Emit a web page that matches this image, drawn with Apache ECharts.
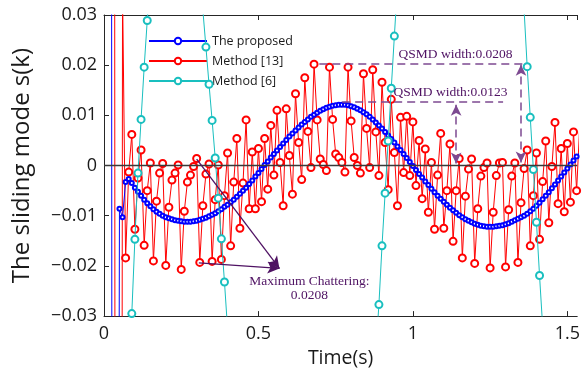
<!DOCTYPE html>
<html><head><meta charset="utf-8">
<script src="https://cdn.jsdelivr.net/npm/echarts@6/dist/echarts.min.js"></script>
<style>html,body{margin:0;padding:0;background:#fff}#c{width:583px;height:373px}</style>
</head><body><div id="c"></div>
<script>
// sampling step (s)
const dt = 0.01;
// The proposed (blue), samples from t = 0.02 s
const blueStart = 0.02;
const blueVals = [
 0.5, -0.5, -0.3, -0.0086, -0.0103, -0.0033, -0.0027, -0.0035, -0.0044, -0.0052,
 -0.0060, -0.0068, -0.0075, -0.0081, -0.0087, -0.0092, -0.0096, -0.0100, -0.0103, -0.0105,
 -0.0107, -0.0109, -0.0110, -0.0111, -0.0112, -0.0112, -0.0112, -0.0111, -0.0110, -0.0108,
 -0.0106, -0.0104, -0.0101, -0.0098, -0.0095, -0.0091, -0.0087, -0.0082, -0.0078, -0.0073,
 -0.0068, -0.0062, -0.0056, -0.0050, -0.0044, -0.0037, -0.0030, -0.0022, -0.0015, -0.0007,
 0.0001, 0.0008, 0.0016, 0.0023, 0.0030, 0.0037, 0.0044, 0.0051, 0.0058, 0.0064,
 0.0070, 0.0076, 0.0082, 0.0087, 0.0092, 0.0097, 0.0101, 0.0105, 0.0109, 0.0112,
 0.0115, 0.0117, 0.0119, 0.0120, 0.0121, 0.0121, 0.0121, 0.0120, 0.0118, 0.0116,
 0.0113, 0.0110, 0.0106, 0.0102, 0.0097, 0.0092, 0.0086, 0.0080, 0.0074, 0.0067,
 0.0060, 0.0053, 0.0046, 0.0038, 0.0031, 0.0023, 0.0015, 0.0007, -0.0001, -0.0009,
 -0.0017, -0.0024, -0.0032, -0.0039, -0.0046, -0.0053, -0.0060, -0.0066, -0.0072, -0.0078,
 -0.0084, -0.0089, -0.0094, -0.0099, -0.0103, -0.0107, -0.0110, -0.0113, -0.0116, -0.0118,
 -0.0120, -0.0121, -0.0122, -0.0122, -0.0122, -0.0121, -0.0120, -0.0119, -0.0117, -0.0115,
 -0.0112, -0.0109, -0.0106, -0.0103, -0.0100, -0.0096, -0.0091, -0.0086, -0.0080, -0.0074,
 -0.0067, -0.0060, -0.0053, -0.0045, -0.0038, -0.0030, -0.0022, -0.0014, -0.0006, 0.0002,
 0.0010, 0.0018, 0.0026
];
// Method [13] (red), samples from t = 0.03 s
const redStart = 0.03;
const redVals = [
 0.5, -0.5, -0.5, 0.035, -0.0184, -0.0013, 0.0062, -0.0127, -0.0025, 0.0031,
 -0.0159, -0.0050, 0.0005, -0.0190, -0.0071, -0.0015, 0.0004, -0.0199, -0.0083, -0.0029,
 -0.0015, 0.0001, -0.0207, -0.0091, -0.0033, -0.0019, -0.0002, 0.0014, -0.0193, -0.0080,
 -0.0017, 0.0003, -0.0191, -0.0068, 0.0001, -0.0187, -0.0060, 0.0025, -0.0160, -0.0033,
 0.0054, -0.0125, -0.0035, 0.0091, -0.0086, 0.0027, -0.0086, 0.0034, -0.0072, 0.0054,
 -0.0047, 0.0080, -0.0019, 0.0110, 0.0006, -0.0080, 0.0113, 0.0020, -0.0057, 0.0143,
 0.0046, -0.0028, 0.0175, 0.0068, -0.0004, 0.0202, 0.0091, 0.0013, 0.0002, -0.0010,
 0.0196, 0.0092, 0.0023, 0.0016, 0.0006, -0.0013, 0.0196, 0.0089, 0.0016, 0.0000,
 -0.0015, 0.0183, 0.0074, -0.0004, 0.0191, 0.0067, -0.0020, 0.0166, 0.0046, -0.0048,
 0.0132, 0.0026, -0.0080, 0.0096, -0.0014, 0.0098, -0.0020, 0.0087, -0.0040, 0.0050,
 -0.0066, 0.0033, -0.0093, 0.0006, -0.0127, -0.0019, 0.0064, -0.0125, -0.0050, 0.0043,
 -0.0151, -0.0050, 0.0014, -0.0184, -0.0061, -0.0007, 0.0013, -0.0195, -0.0086, -0.0021,
 -0.0004, 0.0005, -0.0204, -0.0093, -0.0020, 0.0005, 0.0006, -0.0202, -0.0088, -0.0021,
 0.0005, -0.0193, -0.0074, -0.0006, 0.0031, -0.0160, -0.0060, 0.0025, -0.0147, -0.0032,
 0.0049, -0.0114, -0.0002, 0.0086, -0.0076, 0.0034, -0.0092, 0.0044, -0.0073, 0.0067,
 -0.0050, 0.0078
];
// Method [6] (cyan): times and values (values outside the axis range are estimates)
const cyanT = [0.06,0.07,0.08,0.09,0.10,0.11,0.12,0.13,0.14,0.15,0.16,0.24,
 0.30,0.31,0.32,0.33,0.34,0.35,0.36,0.37,0.38,0.39,0.40,0.41,0.64,
 0.87,0.88,0.89,0.90,0.91,0.92,0.93,0.94,0.95,0.96,1.16,
 1.34,1.35,1.36,1.37,1.38,1.39,1.40,1.41,1.42,1.43,1.53];
const cyanV = [-0.075,-0.062,-0.044,-0.0295,-0.0147,-0.0015,0.0092,0.0196,0.0289,0.038,0.046,0.075,
 0.045,0.038,0.031,0.0236,0.0162,0.0090,0.0015,-0.0065,-0.0146,-0.0232,-0.0325,-0.042,-0.09,
 -0.045,-0.037,-0.0277,-0.0160,-0.0055,0.0049,0.0154,0.0258,0.036,0.046,0.09,
 0.049,0.040,0.031,0.0197,0.0096,-0.0008,-0.0113,-0.0219,-0.032,-0.042,-0.09];

const seriesNames = ['The proposed', 'Method [13]', 'Method [6]'];
// visible x window (the right part of the original axes is cropped)
const xRange = [0, 1.532];
const yRange = [-0.03, 0.03];

const toPairs = (start, vals) => vals.map((v, i) => [+(start + i * dt).toFixed(2), v]);
const bluePts = toPairs(blueStart, blueVals);
const redPts = toPairs(redStart, redVals);
const cyanPts = cyanT.map((t, i) => [t, cyanV[i]]);

const PURPLE = '#4f1263';
const PURPLE_L = '#7d4a91';
const AX = '#262626';
const FONT = '"Open Sans", sans-serif';

const chart = echarts.init(document.getElementById('c'), null, {renderer: 'canvas'});

const dashStyle = {type: [8, 5], color: PURPLE_L, width: 1.5};
const solidStyle = {type: 'solid', color: PURPLE, width: 1.3};

chart.setOption({
  animation: false,
  backgroundColor: '#fff',
  grid: {left: 104, top: 15, bottom: 55.5, right: 0, containLabel: false},
  legend: {
    data: seriesNames,
    orient: 'vertical', left: 143, top: 29,
    itemWidth: 58, itemHeight: 8, itemGap: 6,
    textStyle: {fontFamily: FONT, fontSize: 12.5, color: '#1a1a1a', lineHeight: 14},
    selectedMode: false
  },
  xAxis: [{
    type: 'value', min: xRange[0], max: xRange[1], interval: 0.5,
    position: 'bottom',
    name: 'Time(s)', nameLocation: 'middle', nameGap: 27,
    nameTextStyle: {fontFamily: FONT, fontSize: 19.5, color: '#1a1a1a'},
    axisLine: {show: true, onZero: false, lineStyle: {color: AX, width: 1}},
    axisTick: {show: true, inside: true, length: 5, lineStyle: {color: AX}},
    axisLabel: {fontFamily: FONT, fontSize: 18, color: '#1a1a1a', margin: 9, showMaxLabel: false,
      formatter: v => String(v)},
    splitLine: {show: false}
  }, {
    type: 'value', min: xRange[0], max: xRange[1], interval: 0.5,
    position: 'top',
    axisLine: {show: true, onZero: false, lineStyle: {color: AX, width: 1}},
    axisTick: {show: true, inside: true, length: 5, lineStyle: {color: AX}},
    axisLabel: {show: false},
    splitLine: {show: false}
  }],
  yAxis: {
    type: 'value', min: yRange[0], max: yRange[1], interval: 0.01,
    name: 'The sliding mode s(k)', nameLocation: 'middle', nameGap: 70,
    nameTextStyle: {fontFamily: FONT, fontSize: 24, color: '#1a1a1a'},
    axisLine: {show: true, onZero: false, lineStyle: {color: AX, width: 1}},
    axisTick: {show: true, inside: true, length: 5, lineStyle: {color: AX}},
    axisLabel: {fontFamily: FONT, fontSize: 18, color: '#1a1a1a', margin: 7,
      formatter: v => Math.abs(v) < 1e-9 ? '0' : (v < 0 ? '\u22120' : '0') + '.' + Math.round(Math.abs(v) * 100).toString().padStart(2, '0')},
    splitLine: {show: false}
  },
  series: [
    {
      name: seriesNames[1], type: 'line', data: redPts, clip: true,
      symbol: 'emptyCircle', symbolSize: 7, showAllSymbol: true,
      lineStyle: {color: '#ff0000', width: 1},
      itemStyle: {color: '#ff0000', borderColor: '#ff0000', borderWidth: 1},
      z: 2,
      markLine: {
        silent: true, symbol: ['none', 'none'], label: {show: false},
        lineStyle: {color: '#3a3a3a', width: 1.4, type: 'solid'},
        data: [{yAxis: 0}]
      }
    },
    {
      name: seriesNames[0], type: 'line', data: bluePts, clip: true,
      symbol: 'emptyCircle', symbolSize: 4, showAllSymbol: true,
      lineStyle: {color: '#0000ff', width: 1},
      itemStyle: {color: '#0000ff', borderColor: '#0000ff', borderWidth: 1},
      z: 3
    },
    {
      name: seriesNames[2], type: 'line', data: cyanPts, clip: true,
      symbol: 'emptyCircle', symbolSize: 7, showAllSymbol: true,
      lineStyle: {color: '#19bfbf', width: 1},
      itemStyle: {color: '#19bfbf', borderColor: '#19bfbf', borderWidth: 1},
      z: 4,
      markLine: {
        silent: true, label: {show: false}, symbol: ['none', 'none'],
        data: [
          [{coord: [0.697, 0.0203], lineStyle: dashStyle}, {coord: [1.356, 0.0203], lineStyle: dashStyle}],
          [{coord: [0.771, 0.01266], lineStyle: dashStyle}, {coord: [1.292, 0.01266], lineStyle: dashStyle}],
          [{coord: [1.350, 0.0006], symbol: 'arrow', symbolSize: [8, 11], lineStyle: dashStyle, itemStyle: {color: PURPLE}},
           {coord: [1.350, 0.0201], symbol: 'arrow', symbolSize: [8, 11], lineStyle: dashStyle, itemStyle: {color: PURPLE}}],
          [{coord: [1.140, 0.0004], symbol: 'arrow', symbolSize: [8, 11], lineStyle: dashStyle, itemStyle: {color: PURPLE}},
           {coord: [1.140, 0.0121], symbol: 'arrow', symbolSize: [8, 11], lineStyle: dashStyle, itemStyle: {color: PURPLE}}],
          [{coord: [0.300, 0.0013], lineStyle: solidStyle}, {coord: [0.568, -0.0205], symbol: 'arrow', symbolSize: [9, 12], lineStyle: solidStyle, itemStyle: {color: PURPLE}}],
          [{coord: [0.307, -0.0194], lineStyle: solidStyle}, {coord: [0.568, -0.0205], symbol: 'arrow', symbolSize: [9, 12], lineStyle: solidStyle, itemStyle: {color: PURPLE}}]
        ]
      }
    }
  ]
});

// text annotations placed in data coordinates
const notes = [
  {text: 'QSMD width:0.0208', at: [1.138, 0.0221]},
  {text: 'QSMD width:0.0123', at: [1.122, 0.0146]},
  {text: 'Maximum Chattering:', at: [0.665, -0.0231]},
  {text: '0.0208', at: [0.665, -0.0259]}
];
const graphics = notes.map(n => {
  const p = chart.convertToPixel({xAxisIndex: 0, yAxisIndex: 0}, n.at);
  return {type: 'text', x: p[0], y: p[1], z: 100,
    style: {text: n.text, fill: PURPLE, font: '13.5px "Liberation Serif", serif', align: 'center', verticalAlign: 'middle'}};
});
chart.setOption({graphic: graphics});
</script>
</body></html>
